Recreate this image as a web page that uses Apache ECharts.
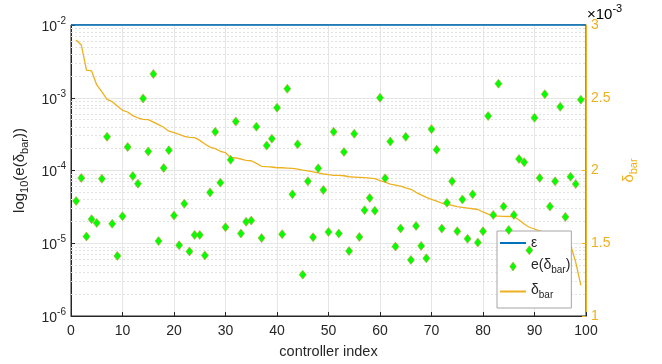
<!DOCTYPE html>
<html>
<head>
<meta charset="utf-8">
<script src="https://cdn.jsdelivr.net/npm/echarts@6/dist/echarts.min.js"></script>
<style>
  html, body { margin: 0; padding: 0; background: #fff; }
  #chart { width: 662px; height: 364px; }
</style>
</head>
<body>
<div id="chart"></div>
<script>
// controller index 1..99
const controllerIndex = [];
for (let i = 1; i <= 99; i++) controllerIndex.push(i);

// e(delta_bar), left log axis
const errValues = [
  3.8e-5, 7.9e-5, 1.24e-5, 2.14e-5, 1.9e-5, 7.7e-5, 2.9e-4, 1.85e-5, 6.7e-6, 2.35e-5,
  2.1e-4, 8.4e-5, 6.6e-5, 9.8e-4, 1.83e-4, 2.12e-3, 1.07e-5, 1.08e-4, 1.9e-4, 2.4e-5,
  9.4e-6, 3.5e-5, 7.7e-6, 1.3e-5, 1.3e-5, 6.8e-6, 5.0e-5, 3.4e-4, 6.8e-5, 1.66e-5,
  1.4e-4, 4.7e-4, 1.36e-5, 1.97e-5, 2.05e-5, 4.0e-4, 1.18e-5, 2.2e-4, 2.74e-4, 7.3e-4,
  1.33e-5, 1.33e-3, 4.7e-5, 2.29e-4, 3.7e-6, 7.1e-5, 1.21e-5, 1.07e-4, 5.4e-5, 1.43e-5,
  3.4e-4, 1.36e-5, 1.8e-4, 7.8e-6, 3.2e-4, 1.22e-5, 2.85e-5, 4.2e-5, 2.8e-5, 1.0e-3,
  7.8e-5, 2.5e-4, 9.0e-6, 1.6e-5, 2.9e-4, 5.9e-6, 1.73e-5, 9.2e-6, 6.2e-6, 3.7e-4,
  1.93e-4, 1.59e-5, 3.6e-5, 7.1e-5, 1.46e-5, 4.0e-5, 1.15e-5, 4.7e-5, 1.02e-5, 1.46e-5,
  5.6e-4, 2.45e-5, 1.56e-3, 3.2e-5, 1.52e-5, 2.45e-5, 1.44e-4, 1.3e-4, 8.0e-6, 5.3e-4,
  7.9e-5, 1.12e-3, 3.2e-5, 7.1e-5, 7.5e-4, 2.3e-5, 8.2e-5, 6.5e-5, 9.4e-4
];

// delta_bar in units of 1e-3, right axis
const deltaBar = [
  2.897, 2.863, 2.69, 2.684, 2.588, 2.54, 2.489, 2.473, 2.443, 2.414,
  2.402, 2.377, 2.361, 2.352, 2.35, 2.333, 2.315, 2.297, 2.27, 2.26,
  2.249, 2.235, 2.228, 2.226, 2.207, 2.182, 2.161, 2.15, 2.132, 2.122,
  2.09, 2.086, 2.079, 2.07, 2.067, 2.049, 2.029, 2.026, 2.024, 2.019,
  2.019, 2.017, 2.015, 2.01, 2.003, 1.997, 1.99, 1.983, 1.976, 1.971,
  1.967, 1.967, 1.964, 1.957, 1.955, 1.953, 1.951, 1.948, 1.944, 1.93,
  1.92, 1.907, 1.90, 1.893, 1.88, 1.871, 1.85, 1.832, 1.815, 1.802,
  1.79, 1.775, 1.768, 1.76, 1.751, 1.746, 1.742, 1.737, 1.732, 1.715,
  1.70, 1.687, 1.686, 1.685, 1.684, 1.683, 1.66, 1.632, 1.61, 1.598,
  1.585, 1.575, 1.56, 1.545, 1.53, 1.51, 1.49, 1.37, 1.21
];

// epsilon threshold
const epsilonX = [0, 100];
const epsilonValue = 1e-2;

const xTicks = { min: 0, max: 100, step: 10 };
const rightTicks = { min: 1, max: 3, step: 0.5 };
const decades = [-6, -5, -4, -3];

const FONT = 'Liberation Sans, Arial, Helvetica, sans-serif';
const INK = '#262626';
const BLUE = '#0072BD';
const ORANGE = '#EDB120';

// minor grid lines of the log axis, as exponents on a hidden linear axis
const minorLines = [];
decades.forEach(k => {
  for (let m = 2; m <= 9; m++) minorLines.push({ yAxis: k + Math.log10(m) });
});

const richText = (size, subSize, color) => ({
  t: { fontSize: size, fontFamily: FONT, color: color, verticalAlign: 'top' },
  s: { fontSize: subSize, fontFamily: FONT, color: color, verticalAlign: 'bottom', padding: [7, 0, 0, 0] },
  b: { fontSize: size, fontFamily: FONT, color: color, verticalAlign: 'bottom' },
  sup: { fontSize: subSize, fontFamily: FONT, color: color, verticalAlign: 'top', padding: [0, 0, 8, 0] }
});

const legendNames = {
  'eps': '{t|ε}',
  'err': '{t|e(δ}{s|bar}{t|)}',
  'dbar': '{t|δ}{s|bar}'
};

const chart = echarts.init(document.getElementById('chart'), null, { renderer: 'canvas' });

chart.setOption({
  animation: false,
  textStyle: { fontFamily: FONT },
  grid: {
    left: 71, right: 76, top: 25, bottom: 48,
    show: true, borderColor: INK, borderWidth: 1, backgroundColor: 'transparent'
  },
  legend: {
    orient: 'vertical',
    left: 497, top: 231,
    padding: [5, 1, 8, 2],
    itemGap: 8,
    itemWidth: 26,
    itemHeight: 9,
    backgroundColor: '#fff',
    borderColor: '#a6a6a6',
    borderWidth: 1,
    borderRadius: 0,
    data: [
      { name: 'eps', itemStyle: { opacity: 0, borderWidth: 0 } },
      { name: 'err', icon: 'path://M5,0 L10,7 L5,14 L0,7 Z', itemStyle: { borderWidth: 0.6 } },
      { name: 'dbar', itemStyle: { opacity: 0, borderWidth: 0 } }
    ],
    formatter: name => legendNames[name],
    textStyle: { color: INK, rich: richText(14, 10, INK) }
  },
  graphic: [{
    type: 'text',
    left: 587, top: 3,
    style: {
      text: '{t|×10}{sup|-3}',
      rich: {
        t: { fontSize: 15, fontFamily: FONT, color: ORANGE, verticalAlign: 'bottom' },
        sup: { fontSize: 11, fontFamily: FONT, color: ORANGE, verticalAlign: 'top', padding: [0, 0, 8, 0] }
      }
    }
  }],
  xAxis: {
    type: 'value',
    min: xTicks.min, max: xTicks.max, interval: xTicks.step,
    name: 'controller index',
    nameLocation: 'middle',
    nameGap: 28,
    nameTextStyle: { fontSize: 14.5, color: INK, fontFamily: FONT },
    axisLine: { lineStyle: { color: INK, width: 1 } },
    axisTick: { inside: true, length: 4, lineStyle: { color: INK } },
    axisLabel: { fontSize: 14, color: INK, margin: 8, fontFamily: FONT },
    splitLine: { show: true, lineStyle: { color: '#e6e6e6', width: 1 } }
  },
  yAxis: [{
    type: 'log',
    logBase: 10,
    min: 1e-6, max: 1e-2,
    name: '{t|log}{s|10}{t|(e(δ}{s|bar}{t|))}',
    nameLocation: 'middle',
    nameRotate: 90,
    nameGap: 40,
    nameTextStyle: { rich: richText(15, 11, INK) },
    axisLine: { show: true, lineStyle: { color: INK, width: 1 } },
    axisTick: { inside: true, length: 4, lineStyle: { color: INK } },
    axisLabel: {
      margin: 5,
      formatter: v => '{b|10}{sup|' + Math.round(Math.log10(v)) + '}',
      rich: richText(14, 10, INK)
    },
    splitLine: { show: true, lineStyle: { color: '#e6e6e6', width: 1 } }
  }, {
    type: 'value',
    position: 'right',
    min: rightTicks.min, max: rightTicks.max, interval: rightTicks.step,
    name: '{t|δ}{s|bar}',
    nameLocation: 'middle',
    nameRotate: 90,
    nameGap: 34,
    nameTextStyle: { rich: richText(15, 11, ORANGE) },
    axisLine: { show: true, lineStyle: { color: ORANGE, width: 1 } },
    axisTick: { inside: true, length: 4, lineStyle: { color: ORANGE } },
    axisLabel: { fontSize: 14, color: ORANGE, margin: 5, fontFamily: FONT },
    splitLine: { show: false }
  }, {
    // hidden exponent axis for the dotted minor grid
    type: 'value',
    min: -6, max: -2,
    show: false,
    splitLine: { show: false }
  }],
  series: [{
    name: 'minorGrid',
    type: 'line',
    yAxisIndex: 2,
    data: [],
    silent: true,
    z: 1,
    markLine: {
      silent: true,
      z: 1,
      symbol: ['none', 'none'],
      label: { show: false },
      lineStyle: { color: '#e2e2e2', type: [2, 2], width: 1 },
      data: minorLines
    }
  }, {
    name: 'eps',
    type: 'line',
    yAxisIndex: 0,
    data: epsilonX.map(x => [x, epsilonValue]),
    symbol: 'none',
    clip: false,
    lineStyle: { color: BLUE, width: 1.6 },
    itemStyle: { color: BLUE },
    z: 3
  }, {
    name: 'err',
    type: 'scatter',
    yAxisIndex: 0,
    data: controllerIndex.map((x, i) => [x, errValues[i]]),
    symbol: 'diamond',
    symbolSize: [7, 9],
    itemStyle: { color: '#00ff00', borderColor: '#c49a3a', borderWidth: 0.6, opacity: 1 },
    z: 4
  }, {
    name: 'dbar',
    type: 'line',
    yAxisIndex: 1,
    data: controllerIndex.map((x, i) => [x, deltaBar[i]]),
    symbol: 'none',
    lineStyle: { color: ORANGE, width: 1.3 },
    itemStyle: { color: ORANGE },
    z: 3
  }]
});
</script>
</body>
</html>
